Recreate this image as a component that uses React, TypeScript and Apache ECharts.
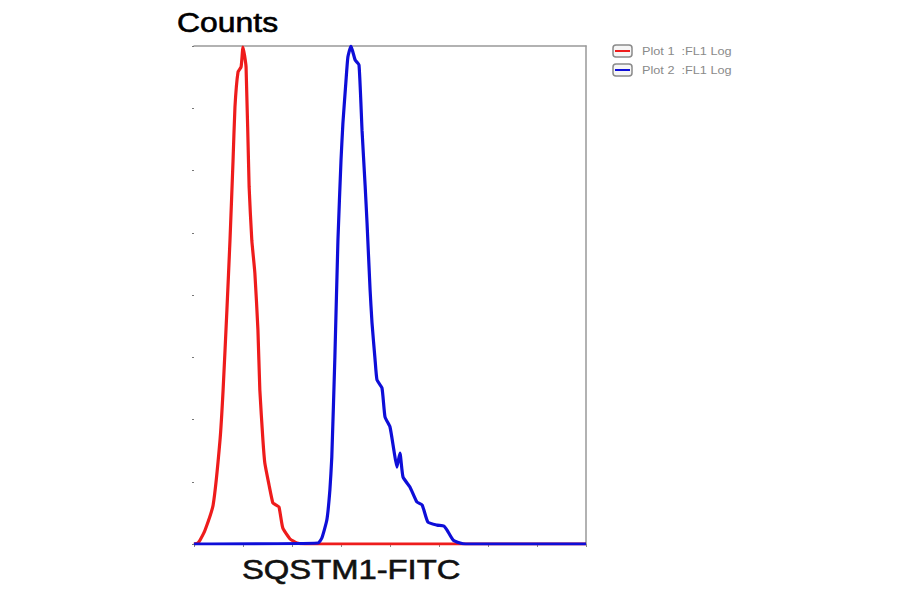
import React, { useEffect, useRef } from "react";
import * as echarts from "echarts";

// Flow cytometry histogram (channel, counts)
const plot1X = [0, 10, 16, 29, 50, 68, 76, 86, 94, 102, 107, 115, 123, 128, 136, 144, 151, 159, 167, 172, 180, 185, 196, 206, 214, 222, 232, 251, 269, 290, 1024];
const plot1Y = [0, 0.4, 1.6, 5.6, 15.7, 41.8, 61.8, 94, 122, 154, 175.5, 189.6, 191.6, 199.6, 191.6, 143.4, 122, 108.8, 86, 61.8, 41.8, 32.5, 23.7, 16.5, 15.7, 14.9, 6.4, 2.0, 0.4, 0, 0];

const plot2X = [0, 324, 334, 347, 355, 360, 368, 376, 384, 389, 397, 402, 410, 415, 421, 431, 439, 447, 452, 460, 465, 473, 478, 491, 499, 512, 522, 530, 538, 546, 564, 582, 596, 611, 635, 653, 661, 677, 695, 710, 1024];
const plot2Y = [0, 0.4, 2.4, 9.6, 21.7, 35, 75, 122, 154, 169, 186, 195.6, 200, 197.6, 194.4, 192.4, 166, 144, 129, 102, 88.8, 74, 65.9, 62.7, 51, 47, 37.8, 30.9, 36.5, 26.9, 22.9, 16.9, 15.7, 8.8, 7.6, 7.2, 5.6, 1.6, 0.4, 0, 0];

const seriesNames = ["Plot 1  :FL1 Log", "Plot 2  :FL1 Log"];
const seriesColors = ["#ee1c1c", "#0e0ed8"];
const yTitle = "Counts";
const xTitle = "SQSTM1-FITC";

export default function App() {
  const ref = useRef<HTMLDivElement>(null);
  useEffect(() => {
    if (!ref.current) return;
    const chart = echarts.init(ref.current, undefined, { renderer: "svg" });
    const pairs = (xs: number[], ys: number[]) => xs.map((x, i) => [x, ys[i]]);
    const legendGraphics: any[] = [];
    seriesNames.forEach((name, i) => {
      const y = 45 + i * 19;
      legendGraphics.push(
        {
          type: "rect",
          x: 613,
          y: y,
          shape: { width: 19, height: 12, r: 3 },
          style: { fill: "#f6f6f6", stroke: "#8a8a8a", lineWidth: 1.5 },
        },
        {
          type: "line",
          shape: { x1: 615, y1: y + 6, x2: 630, y2: y + 6 },
          style: { stroke: seriesColors[i], lineWidth: 2 },
        },
        {
          type: "text",
          x: 642,
          y: y + 1,
          scaleX: 1.27,
          style: { text: name, fill: "#8a8a8a", fontSize: 10, fontFamily: "Liberation Sans, Arial" },
        }
      );
    });
    chart.setOption({
      animation: false,
      grid: { left: 194, right: 314, top: 46, bottom: 50 },
      xAxis: [
        {
          type: "value",
          min: 0,
          max: 1024,
          interval: 128,
          axisLine: { show: true, onZero: false, lineStyle: { color: "#999", width: 1.5 } },
          axisTick: { show: true, length: 3, lineStyle: { color: "#888" } },
          axisLabel: { show: false },
          splitLine: { show: false },
        },
        {
          type: "value",
          position: "top",
          min: 0,
          max: 1024,
          axisLine: { show: true, onZero: false, lineStyle: { color: "#999", width: 1.5 } },
          axisTick: { show: false },
          axisLabel: { show: false },
          splitLine: { show: false },
        },
      ],
      yAxis: [
        {
          type: "value",
          min: 0,
          max: 200,
          interval: 25,
          axisLine: { show: false, onZero: false },
          axisTick: { show: true, length: 2, lineStyle: { color: "#777" } },
          axisLabel: { show: false },
          splitLine: { show: false },
        },
        {
          type: "value",
          position: "right",
          min: 0,
          max: 200,
          axisLine: { show: true, onZero: false, lineStyle: { color: "#999", width: 1.5 } },
          axisTick: { show: false },
          axisLabel: { show: false },
          splitLine: { show: false },
        },
      ],
      series: [
        {
          name: seriesNames[0],
          type: "line",
          data: pairs(plot1X, plot1Y),
          showSymbol: false,
          smooth: 0.15,
          lineStyle: { color: seriesColors[0], width: 3.2 },
          itemStyle: { color: seriesColors[0] },
          z: 2,
        },
        {
          name: seriesNames[1],
          type: "line",
          data: pairs(plot2X, plot2Y),
          showSymbol: false,
          smooth: 0.15,
          lineStyle: { color: seriesColors[1], width: 3.2 },
          itemStyle: { color: seriesColors[1] },
          z: 3,
        },
      ],
      graphic: [
        {
          type: "text",
          x: 177,
          y: 8,
          scaleX: 1.14,
          style: { text: yTitle, fill: "#000", stroke: "#000", lineWidth: 0.6, fontSize: 28, fontFamily: "Liberation Sans, Arial" },
        },
        {
          type: "text",
          x: 242,
          y: 555,
          scaleX: 1.17,
          style: { text: xTitle, fill: "#111", stroke: "#111", lineWidth: 0.6, fontSize: 28, fontFamily: "Liberation Sans, Arial" },
        },
        ...legendGraphics,
      ],
    });
    return () => chart.dispose();
  }, []);
  return (
    <div
      ref={ref}
      style={{ position: "fixed", left: 0, top: 0, width: 900, height: 594, background: "#fff" }}
    />
  );
}
